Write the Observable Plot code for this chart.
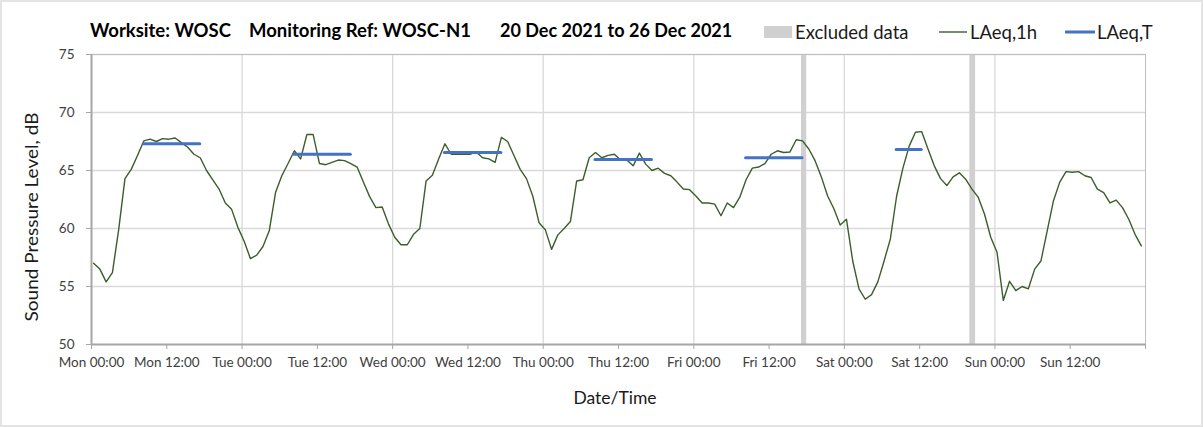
<!DOCTYPE html>
<html>
<head>
<meta charset="utf-8">
<script src="https://cdn.jsdelivr.net/npm/d3@7"></script>
<script src="https://cdn.jsdelivr.net/npm/@observablehq/plot@0.6"></script>
<style>
  html, body { margin: 0; padding: 0; background: #fff; }
  #chart { width: 1203px; height: 427px; position: relative; }
  svg { display: block; }
</style>
</head>
<body>
<div id="chart"></div>
<script>
// ---- Data ----
const startDate = "2021-12-20T00:00:00Z";
// Hourly LAeq,1h values (dB), Mon 00:00 .. Sun 23:00
const laeq1h = [
  57.0, 56.5, 55.4, 56.2, 59.9, 64.3, 65.1, 66.3, 67.55, 67.7, 67.5, 67.75, 67.7, 67.8, 67.4, 67.0, 66.4, 66.1, 65.0, 64.2, 63.4, 62.2, 61.65, 60.1,
  58.9, 57.4, 57.7, 58.45, 59.8, 63.1, 64.55, 65.6, 66.7, 66.0, 68.1, 68.1, 65.6, 65.5, 65.7, 65.9, 65.85, 65.6, 65.3, 64.0, 62.75, 61.8, 61.85, 60.4,
  59.25, 58.6, 58.6, 59.5, 60.0, 64.1, 64.6, 66.0, 67.3, 66.4, 66.4, 66.4, 66.4, 66.6, 66.1, 66.0, 65.7, 67.85, 67.5, 66.3, 65.1, 64.3, 62.8, 60.5,
  59.9, 58.2, 59.45, 60.0, 60.6, 64.1, 64.2, 66.1, 66.55, 66.1, 66.3, 66.4, 65.9, 65.9, 65.4, 66.5, 65.55, 65.0, 65.2, 64.75, 64.55, 64.0, 63.4, 63.35,
  62.8, 62.2, 62.2, 62.1, 61.1, 62.2, 61.8, 62.7, 64.2, 65.2, 65.3, 65.6, 66.4, 66.7, 66.55, 66.6, 67.65, 67.55, 66.85, 65.85, 64.45, 62.8, 61.7, 60.3,
  60.8, 57.2, 54.8, 53.9, 54.3, 55.4, 57.2, 59.1, 62.8, 65.2, 67.1, 68.3, 68.35, 66.85, 65.4, 64.3, 63.7, 64.45, 64.8, 64.25, 63.4, 62.7, 61.25, 59.25,
  57.95, 53.8, 55.45, 54.65, 55.0, 54.8, 56.5, 57.2, 59.8, 62.4, 64.0, 64.9, 64.85, 64.9, 64.55, 64.4, 63.4, 63.1, 62.2, 62.45, 61.8, 60.8, 59.5, 58.5
];
// LAeq,T per period
const periodDay   = ["2021-12-20", "2021-12-21", "2021-12-22", "2021-12-23", "2021-12-24", "2021-12-25"];
const periodFrom  = [8, 8, 8, 8, 8, 8];      // hour of first value
const periodTo    = [17, 17, 17, 17, 17, 12]; // hour of last value
const periodValue = [67.3, 66.4, 66.55, 65.95, 66.1, 66.8];
// Excluded data
const excludedFrom = ["2021-12-24T17:10:00Z", "2021-12-25T20:00:00Z"];
const excludedTo   = ["2021-12-24T18:00:00Z", "2021-12-25T20:55:00Z"];
// Ticks
const yTicks = [50, 55, 60, 65, 70, 75];
const xTickLabels = ["Mon 00:00", "Mon 12:00", "Tue 00:00", "Tue 12:00", "Wed 00:00", "Wed 12:00",
  "Thu 00:00", "Thu 12:00", "Fri 00:00", "Fri 12:00", "Sat 00:00", "Sat 12:00", "Sun 00:00", "Sun 12:00", ""];

// ---- Build tables ----
const HOUR = 3600e3;
const t0 = new Date(startDate).getTime();
const tEnd = t0 + 7 * 24 * HOUR;
const pointOffset = 20 * 60e3;
const series = laeq1h.map((v, i) => ({t: new Date(t0 + i * HOUR + pointOffset), v}));
const periods = periodDay.map((d, i) => ({
  x1: new Date(new Date(d + "T00:00:00Z").getTime() + periodFrom[i] * HOUR + pointOffset),
  x2: new Date(new Date(d + "T00:00:00Z").getTime() + periodTo[i] * HOUR + pointOffset),
  y: periodValue[i]
}));
const excluded = excludedFrom.map((d, i) => ({x1: new Date(d), x2: new Date(excludedTo[i])}));
const xTicks = xTickLabels.map((_, i) => new Date(t0 + i * 12 * HOUR));
const dayLines = d3.range(1, 7).map(i => new Date(t0 + i * 24 * HOUR));

const W = 1203, H = 427;
const green = "#3b5e2b", blue = "#4472c4", grey = "#d0d0d0";

const plot = Plot.plot({
  width: W, height: H,
  marginLeft: 91, marginRight: 58, marginTop: 54, marginBottom: 83,
  style: {fontFamily: "Lato, sans-serif", fontSize: "13.5px", color: "#404040", background: "#fff"},
  x: {type: "utc", domain: [new Date(t0), new Date(tEnd)]},
  y: {domain: [50, 75]},
  marks: [
    Plot.ruleY(yTicks.slice(1), {stroke: "#d9d9d9", strokeWidth: 1.5}),
    Plot.ruleX(dayLines, {stroke: "#d9d9d9", strokeWidth: 1.3}),
    Plot.rect(excluded, {x1: "x1", x2: "x2", y1: 50, y2: 75, fill: grey}),
    Plot.ruleY([75], {stroke: "#bfbfbf", strokeWidth: 1}),
    Plot.ruleX([new Date(tEnd)], {stroke: "#bfbfbf", strokeWidth: 1}),
    Plot.line(series, {x: "t", y: "v", stroke: green, strokeWidth: 1.4}),
    Plot.ruleY(periods, {x1: "x1", x2: "x2", y: "y", stroke: blue, strokeWidth: 3, strokeLinecap: "round"}),
    Plot.ruleX([new Date(t0)], {stroke: "#a6a6a6", strokeWidth: 2}),
    Plot.ruleY([50], {stroke: "#a6a6a6", strokeWidth: 2}),
    Plot.axisY({ticks: yTicks, tickSize: 5, tickPadding: 12, stroke: "#a6a6a6", label: null}),
    Plot.axisX({ticks: xTicks, tickSize: 5, tickPadding: 8, stroke: "#a6a6a6", label: null,
      tickFormat: (d, i) => xTickLabels[i]})
  ]
});

const svg = d3.select(plot);
svg.insert("rect", ":first-child").attr("x", 1).attr("y", 1).attr("width", W - 2).attr("height", H - 2)
  .attr("fill", "#fff").attr("stroke", "#e3e3e3").attr("stroke-width", 2);

const fam = "Lato, sans-serif";
// Title
const titleG = svg.append("g").attr("font-family", fam).attr("font-weight", "bold").attr("font-size", 18.5)
  .attr("fill", "#000").attr("text-anchor", "start");
titleG.append("text").attr("x", 90).attr("y", 37).text("Worksite: WOSC");
titleG.append("text").attr("x", 249).attr("y", 37).text("Monitoring Ref: WOSC-N1");
titleG.append("text").attr("x", 500).attr("y", 37).attr("font-size", 18).text("20 Dec 2021 to 26 Dec 2021");

// Legend
const leg = svg.append("g").attr("font-family", fam).attr("font-size", 18.5).attr("fill", "#1a1a1a").attr("text-anchor", "start");
leg.append("rect").attr("x", 764).attr("y", 26).attr("width", 28).attr("height", 12).attr("fill", grey);
leg.append("text").attr("x", 795).attr("y", 38.5).text("Excluded data");
leg.append("line").attr("x1", 939).attr("x2", 967).attr("y1", 32).attr("y2", 32).attr("stroke", green).attr("stroke-width", 1.4);
leg.append("text").attr("x", 970).attr("y", 38.5).text("LAeq,1h");
leg.append("line").attr("x1", 1065).attr("x2", 1095).attr("y1", 32).attr("y2", 32).attr("stroke", blue).attr("stroke-width", 3);
leg.append("text").attr("x", 1097).attr("y", 38.5).text("LAeq,T");

// Axis titles
svg.append("text").attr("font-family", fam).attr("font-size", 16.5).attr("fill", "#1a1a1a")
  .attr("text-anchor", "middle").attr("transform", "translate(38,217) rotate(-90)")
  .attr("textLength", 209).attr("lengthAdjust", "spacingAndGlyphs").text("Sound Pressure Level, dB");
svg.append("text").attr("font-family", fam).attr("font-size", 17.5).attr("fill", "#1a1a1a")
  .attr("text-anchor", "middle").attr("x", 615).attr("y", 404).text("Date/Time");

document.getElementById("chart").appendChild(plot);
</script>
</body>
</html>
